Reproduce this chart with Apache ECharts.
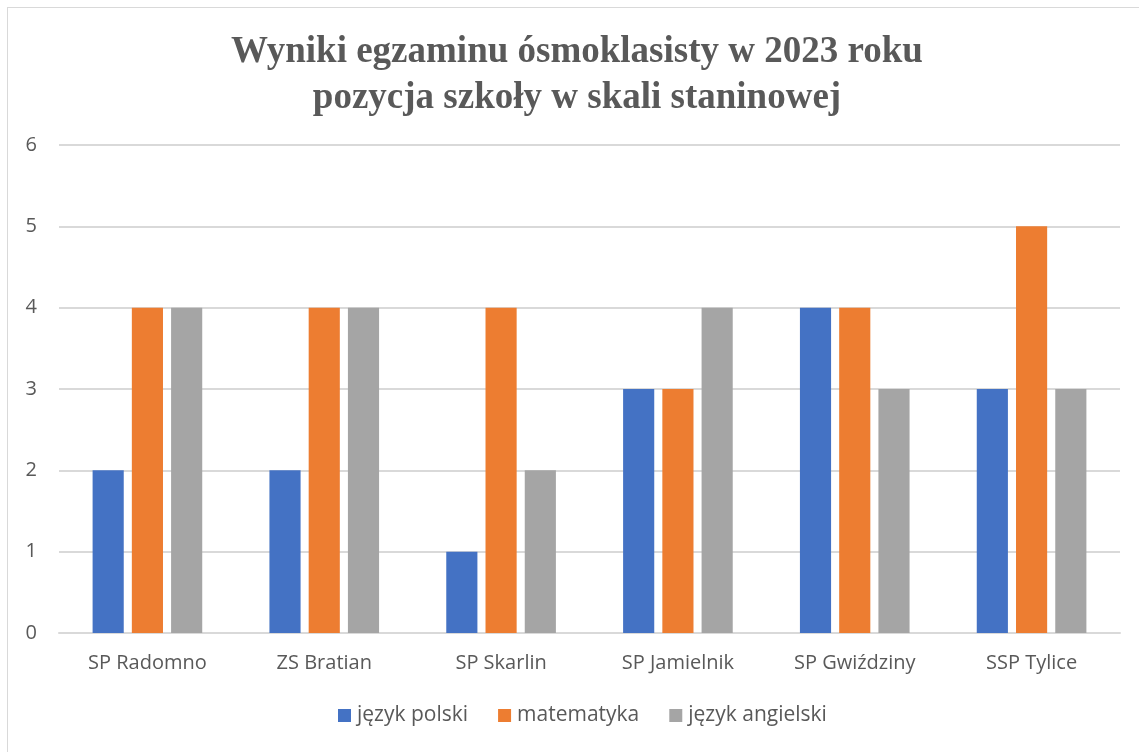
<!DOCTYPE html>
<html>
<head>
<meta charset="utf-8">
<script src="https://cdn.jsdelivr.net/npm/echarts@6/dist/echarts.min.js"></script>
<style>
  html, body { margin: 0; padding: 0; background: #fff; overflow: hidden; }
  #frame { position: absolute; left: 7px; top: 7px; width: 1200px; height: 800px; border: 1px solid #d9d9d9; }
  #main { position: absolute; left: 0; top: 0; width: 1139px; height: 752px; }
</style>
</head>
<body>
<div id="frame"></div>
<div id="main"></div>
<script>
// szkoły
var szkoly = ['SP Radomno', 'ZS Bratian', 'SP Skarlin', 'SP Jamielnik', 'SP Gwiździny', 'SSP Tylice'];
// wyniki w skali staninowej
var jezykPolski = [2, 2, 1, 3, 4, 3];
var matematyka = [4, 4, 4, 3, 4, 5];
var jezykAngielski = [4, 4, 2, 4, 3, 3];

var chart = echarts.init(document.getElementById('main'));

var option = {
  animation: false,
  //tytuł
  title: {
    text: 'Wyniki egzaminu ósmoklasisty w 2023 roku\npozycja szkoły w skali staninowej',
    left: 577,
    textAlign: 'center',
    top: 29,
    padding: 0,
    textStyle: {
      fontFamily: 'Liberation Serif',
      fontSize: 37,
      fontWeight: 'bold',
      color: '#595959',
      lineHeight: 46
    }
  },
  //legenda
  legend: {
    bottom: 21,
    left: 338,
    padding: [5, 0],
    itemWidth: 13,
    itemHeight: 13,
    itemGap: 30,
    icon: 'rect',
    textStyle: { fontFamily: 'Open Sans', fontSize: 21, color: '#595959', padding: [0, 0, 0, 1] },
    data: ['język polski', 'matematyka', 'język angielski']
  },
  grid: { left: 59, right: 19, top: 145, bottom: 119 },
  xAxis: {
    type: 'category',
    data: szkoly,
    axisLine: { lineStyle: { color: '#d9d9d9', width: 2 } },
    axisTick: { show: false },
    axisLabel: { fontFamily: 'Open Sans', fontSize: 20, color: '#595959', margin: 20 }
  },
  yAxis: {
    type: 'value',
    min: 0,
    max: 6,
    interval: 1,
    axisLabel: { fontFamily: 'Open Sans', fontSize: 20, color: '#595959', margin: 22 },
    splitLine: { lineStyle: { color: '#d9d9d9', width: 2 } }
  },
  series: [
    { name: 'język polski', type: 'bar', data: jezykPolski, itemStyle: { color: '#4472C4' }, barGap: '26%', barCategoryGap: '38%' },
    { name: 'matematyka', type: 'bar', data: matematyka, itemStyle: { color: '#ED7D31' } },
    { name: 'język angielski', type: 'bar', data: jezykAngielski, itemStyle: { color: '#A5A5A5' } }
  ]
};

chart.setOption(option);
</script>
</body>
</html>
